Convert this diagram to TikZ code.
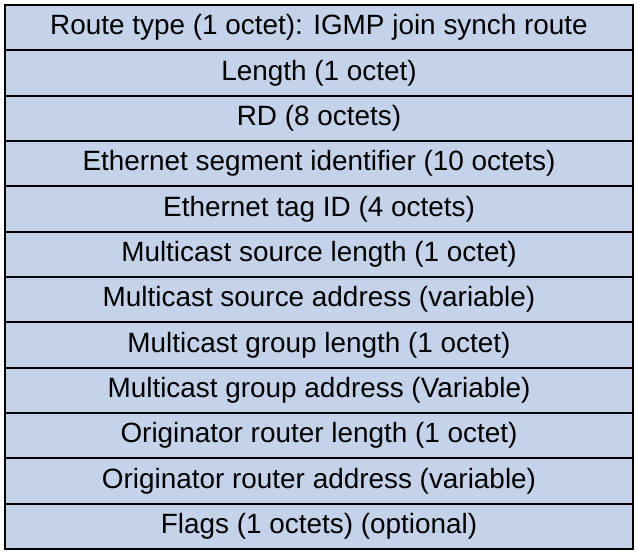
\documentclass[tikz,border=0pt]{standalone}
\usepackage{fontspec}
\setmainfont{Liberation Sans}
\definecolor{fieldblue}{RGB}{197,211,234}
\begin{document}
\begin{tikzpicture}[x=1pt, y=-1pt,
    field/.style={draw, line width=2pt, fill=fieldblue, inner sep=0pt, outer sep=0pt,
      minimum width=628pt, minimum height=45.33pt,
      font=\fontsize{27.9}{28}\selectfont}]
    \useasboundingbox (0, 0) rectangle (638, 554);
    \node[field] (rtype) at (319, 27.67) {Route type (1 octet): IGMP join synch route};
    \node[field] (len) at (319, 73.00) {Length (1 octet)};
    \node[field] (rd) at (319, 118.33) {RD (8 octets)};
    \node[field] (esi) at (319, 163.67) {Ethernet segment identifier (10 octets)};
    \node[field] (tag) at (319, 209.00) {Ethernet tag ID (4 octets)};
    \node[field] (srclen) at (319, 254.33) {Multicast source length (1 octet)};
    \node[field] (srcaddr) at (319, 299.67) {Multicast source address (variable)};
    \node[field] (grplen) at (319, 345.00) {Multicast group length (1 octet)};
    \node[field] (grpaddr) at (319, 390.33) {Multicast group address (Variable)};
    \node[field] (origlen) at (319, 435.67) {Originator router length (1 octet)};
    \node[field] (origaddr) at (319, 481.00) {Originator router address (variable)};
    \node[field] (flags) at (319, 526.33) {Flags (1 octets) (optional)};
\end{tikzpicture}
\end{document}
